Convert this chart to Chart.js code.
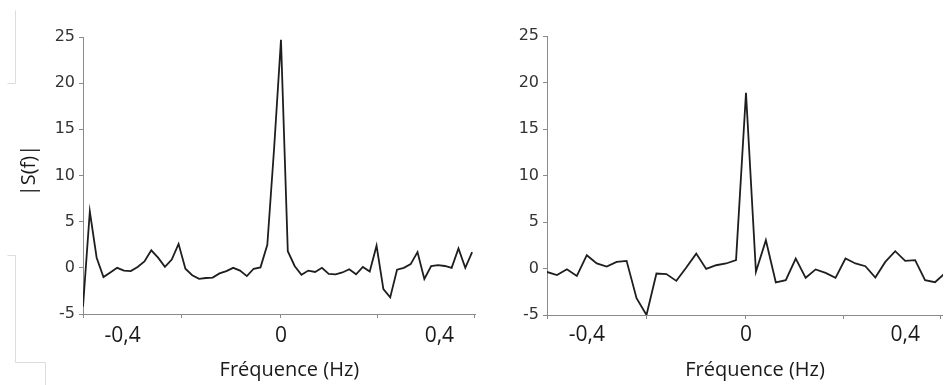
<!DOCTYPE html>
<html lang="fr">
<head>
<meta charset="UTF-8">
<title>Spectre |S(f)|</title>
<script src="https://cdn.jsdelivr.net/npm/chart.js"></script>
<style>
  body { margin: 0; background: #fff; }
  .box { position: absolute; top: 0; }
</style>
</head>
<body>
<div class="box" style="left:0"><canvas id="chartLeft" width="480" height="385"></canvas></div>
<div class="box" style="left:480px"><canvas id="chartRight" width="464" height="385"></canvas></div>

<script>
// valeurs (|S(f)| par raie de fréquence)
const binsLeft = 58;   // raies de -0,5 Hz à +0,483 Hz, pas 1/58
const binsRight = 41;  // raies de -0,5 Hz à +0,5 Hz, pas 1/40
const spectrumLeft = [
  -4.2, 6.1, 1.1, -1.0, -0.5, 0, -0.3, -0.35, 0.1, 0.7,
  1.9, 1.1, 0.1, 0.9, 2.6, -0.1, -0.8, -1.2, -1.1, -1.05,
  -0.6, -0.35, 0, -0.3, -0.9, -0.1, 0.05, 2.5, 13, 24.7,
  1.8, 0.2, -0.75, -0.3, -0.45, 0, -0.65, -0.7, -0.5, -0.15,
  -0.7, 0.1, -0.4, 2.4, -2.3, -3.2, -0.2, 0, 0.4, 1.7,
  -1.2, 0.2, 0.3, 0.2, 0, 2.1, 0, 1.7
];
const spectrumRight = [
  -0.37, -0.7, -0.08, -0.8, 1.43, 0.54, 0.21, 0.71, 0.82, -3.2,
  -5, -0.54, -0.6, -1.33, 0.1, 1.6, -0.04, 0.35, 0.54, 0.9,
  18.9,
  -0.36, 3.04, -1.5, -1.26, 1.07, -1.0, -0.1, -0.47, -1.0, 1.07,
  0.54, 0.25, -0.97, 0.71, 1.86, 0.82, 0.9, -1.26, -1.47, -0.5
];
const xTickLabels = [-0.4, 0, 0.4];
const xTickMarks = [-0.5, -0.25, 0, 0.245, 0.49];
const yTicks = [-5, 0, 5, 10, 15, 20, 25];
const xTitle = 'Fréquence (Hz)';
const yTitle = '|S(f)|';

const axisColor = '#8a8a8a';
const lineColor = '#1e1e1e';

function toPoints(values, step) {
  const half = Math.floor(values.length / 2);
  return values.map((v, i) => ({ x: (i - half) * step, y: v }));
}

// titres d'axes dessinés à la main pour les placer comme sur l'original
const axisTitles = {
  id: 'axisTitles',
  afterDraw(chart, args, opts) {
    const { ctx, chartArea } = chart;
    ctx.save();
    ctx.fillStyle = '#1a1a1a';
    ctx.textAlign = 'center';
    ctx.textBaseline = 'middle';
    ctx.font = '20px "Open Sans"';
    ctx.fillText(xTitle, (chartArea.left + chartArea.right) / 2 + 10, 370);
    if (opts.showY) {
      ctx.translate(29, (chartArea.top + chartArea.bottom) / 2 - 5);
      ctx.rotate(-Math.PI / 2);
      ctx.fillText(yTitle, 0, 0);
    }
    ctx.restore();
  }
};

// petits restes de cadre gris à gauche de l'image
const frameMarks = {
  id: 'frameMarks',
  afterDraw(chart, args, opts) {
    if (!opts.segments) return;
    const ctx = chart.ctx;
    ctx.save();
    ctx.strokeStyle = '#dcdcdc';
    ctx.lineWidth = 1;
    opts.segments.forEach(s => {
      ctx.beginPath();
      ctx.moveTo(s[0] + 0.5, s[1] + 0.5);
      ctx.lineTo(s[2] + 0.5, s[3] + 0.5);
      ctx.stroke();
    });
    ctx.restore();
  }
};

function makeChart(id, values, step, xMax, yWidth, xHeight, pad, showY, segments) {
  return new Chart(document.getElementById(id), {
    type: 'line',
    data: {
      datasets: [{
        data: toPoints(values, step),
        borderColor: lineColor,
        borderWidth: 1.8,
        pointRadius: 0,
        tension: 0
      }]
    },
    options: {
      responsive: false,
      animation: false,
      layout: { padding: pad },
      plugins: {
        legend: { display: false },
        tooltip: { enabled: false },
        axisTitles: { showY: showY },
        frameMarks: { segments: segments }
      },
      scales: {
        x: {
          type: 'linear',
          min: -0.5,
          max: xMax,
          afterBuildTicks: s => {
            const vals = [...new Set(xTickMarks.concat(xTickLabels))].sort((a, b) => a - b);
            s.ticks = vals.map(v => ({ value: v }));
          },
          afterFit: s => { s.height = xHeight; },
          ticks: {
            autoSkip: false,
            maxRotation: 0,
            padding: showY ? 5 : 3,
            color: '#1a1a1a',
            font: { family: 'Open Sans', size: 21 },
            callback: v => xTickLabels.includes(v) ? String(v).replace('.', ',') : ''
          },
          grid: {
            drawOnChartArea: false,
            tickLength: 4,
            tickColor: c => (c.tick && xTickMarks.includes(c.tick.value)) ? axisColor : 'rgba(0,0,0,0)'
          },
          border: { color: axisColor, width: 1 }
        },
        y: {
          min: -5,
          max: 25,
          afterBuildTicks: s => { s.ticks = yTicks.map(v => ({ value: v })); },
          afterFit: s => { s.width = yWidth; },
          ticks: {
            padding: 4,
            color: '#333',
            font: { family: 'DejaVu Sans', size: 16 }
          },
          grid: { drawOnChartArea: false, tickLength: 4, tickColor: axisColor },
          border: { color: axisColor, width: 1 }
        }
      }
    },
    plugins: [axisTitles, frameMarks]
  });
}

makeChart('chartLeft', spectrumLeft, 1 / binsLeft, 0.492, 83, 71,
  { top: 37, right: 4, left: 0, bottom: 0 }, true,
  [[15, 10, 15, 83], [7, 83, 15, 83], [7, 255, 15, 255], [15, 255, 15, 362], [15, 362, 45, 362], [45, 362, 45, 385]]);
makeChart('chartRight', spectrumRight, 1 / (binsRight - 1), 0.495, 67, 70,
  { top: 36, right: 1, left: 0, bottom: 0 }, false, null);
</script>
</body>
</html>
